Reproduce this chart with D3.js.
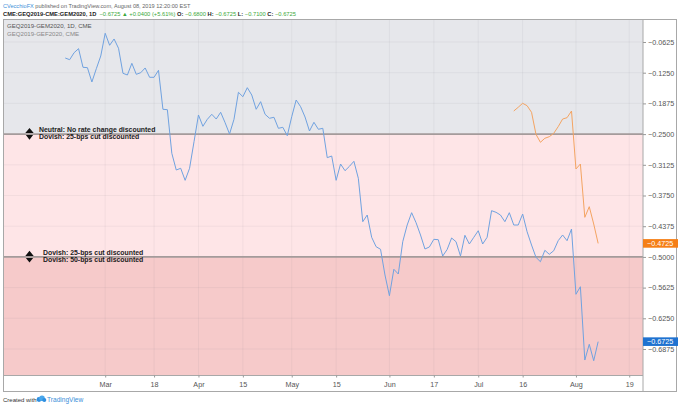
<!DOCTYPE html>
<html><head><meta charset="utf-8">
<script src="https://cdn.jsdelivr.net/npm/d3@7"></script>
<style>
body{margin:0;background:#fff;}
svg{display:block;font-family:"Liberation Sans",Arial,sans-serif;}
</style>
</head><body>
<svg id="c" width="680" height="407"></svg>
<script>
// ---------- DATA ----------
const holidays = ["2019-02-18","2019-04-19","2019-05-27","2019-07-04"];
const spreadStart = "2019-02-15";           // GEQ2019-GEM2020, daily
const spreadValues = [
-0.0951,-0.0985,-0.0843,-0.0761,-0.1140,-0.1148,-0.1439,-0.1169,-0.0910,
-0.0448,-0.0692,-0.0564,-0.0753,-0.1262,-0.1297,-0.1059,-0.1283,-0.1250,-0.1154,-0.1344,
-0.1344,-0.1201,-0.1995,-0.2003,-0.2891,-0.3231,-0.3196,-0.3441,-0.3196,-0.2655,
-0.2111,-0.2341,-0.2199,-0.2097,-0.2193,-0.2056,-0.2268,-0.2498,-0.2199,-0.1649,
-0.1739,-0.1555,-0.1704,-0.1995,-0.1840,-0.2097,-0.2178,-0.2158,-0.2382,-0.2362,
-0.2533,-0.2146,-0.1806,-0.1942,-0.2152,-0.2437,-0.2260,-0.2402,-0.2382,-0.2980,
-0.2946,-0.3441,-0.3109,-0.3245,-0.3156,-0.3054,-0.3400,-0.4283,-0.4147,-0.4601,
-0.4792,-0.4845,-0.5368,-0.5790,-0.5252,-0.5348,-0.4691,-0.4351,-0.4100,-0.4304,
-0.4554,-0.4839,-0.4798,-0.4642,-0.4650,-0.4982,-0.4849,-0.4615,-0.4691,-0.4982,
-0.4560,-0.4737,-0.4601,-0.4467,-0.4737,-0.4601,-0.4059,-0.4092,-0.4147,-0.4283,
-0.4100,-0.4351,-0.4351,-0.4127,-0.4487,-0.4758,-0.5008,-0.5098,-0.4866,-0.4947,
-0.4874,-0.4670,-0.4554,-0.4670,-0.4432,-0.5761,-0.5607,-0.7099,-0.6779,-0.7113,
-0.6725
];
const compareStart = "2019-07-12";          // GEQ2019-GEF2020
const compareValues = [
-0.2030,-0.1954,-0.1873,-0.1922,-0.2056,-0.2504,-0.2667,-0.2585,-0.2553,-0.2484,
-0.2349,-0.2193,-0.2166,-0.2030,-0.3210,-0.3109,-0.4194,-0.3978,-0.4330,-0.4725
];
const yTicks = [-0.0625,-0.125,-0.1875,-0.25,-0.3125,-0.375,-0.4375,-0.5,-0.5625,-0.625,-0.6875];
const xTickDates = ["2019-03-01","2019-03-18","2019-04-01","2019-04-15","2019-05-01","2019-05-15",
                    "2019-06-03","2019-06-17","2019-07-01","2019-07-16","2019-08-01","2019-08-19"];
const xTickLabels = ["Mar","18","Apr","15","May","15","Jun","17","Jul","16","Aug","19"];
const zoneBounds = [-0.25, -0.5];
const zoneNotes = [
  {level:-0.25, above:"Neutral: No rate change discounted", below:"Dovish: 25-bps cut discounted"},
  {level:-0.5,  above:"Dovish: 25-bps cut discounted",      below:"Dovish: 50-bps cut discounted"}
];

// ---------- CALENDAR (trading days) ----------
function tradingDays(start, end){
  const out=[]; const d=new Date(start+"T00:00:00Z"); const e=new Date(end+"T00:00:00Z");
  while(d<=e){ const wd=d.getUTCDay(); const s=d.toISOString().slice(0,10);
    if(wd!==0&&wd!==6&&!holidays.includes(s)) out.push(s); d.setUTCDate(d.getUTCDate()+1);}
  return out;
}
const cal = tradingDays("2019-01-02","2019-09-30");
const idx = s => cal.indexOf(s);
const spread = spreadValues.map((v,i)=>({i:idx(spreadStart)+i, v}));
const compare = compareValues.map((v,i)=>({i:idx(compareStart)+i, v}));

// ---------- LAYOUT ----------
const svg = d3.select("#c");
const L=3.5, R=643, T=19, B=375, FB=391.5, FR=676.5;
const x = d3.scaleLinear()
  .domain([spread[0].i-13.9, spread[spread.length-1].i+10.1]).range([L,R]);
const y = d3.scaleLinear().domain([-0.0157,-0.7404]).range([T,B]);

// zones
const edges=[y.domain()[0], ...zoneBounds, y.domain()[1]];
const zoneColors=["#e6e7eb","#fee5e7","#f6caca"];
svg.append("g").selectAll("rect").data(d3.range(3)).join("rect")
  .attr("x",L).attr("width",R-L)
  .attr("y",k=>y(edges[k])).attr("height",k=>y(edges[k+1])-y(edges[k]))
  .attr("fill",k=>zoneColors[k]);

// grid
const g = svg.append("g");
g.selectAll("line.h").data(yTicks).join("line")
  .attr("x1",L).attr("x2",R).attr("y1",d=>y(d)).attr("y2",d=>y(d))
  .attr("stroke","rgba(120,120,130,0.08)").attr("stroke-width",1);
g.selectAll("line.v").data(xTickDates).join("line")
  .attr("y1",T).attr("y2",B).attr("x1",d=>x(idx(d))).attr("x2",d=>x(idx(d)))
  .attr("stroke","rgba(120,120,130,0.08)").attr("stroke-width",1);

// zone boundaries
svg.append("g").selectAll("line").data(zoneBounds).join("line")
  .attr("x1",L).attr("x2",R).attr("y1",d=>y(d)).attr("y2",d=>y(d))
  .attr("stroke","#a49b9b").attr("stroke-width",1.6);

// series
const line = d3.line().x(d=>x(d.i)).y(d=>y(d.v));
svg.append("path").datum(spread).attr("d",line).attr("fill","none")
  .attr("stroke","#70a2e0").attr("stroke-width",1).attr("stroke-linejoin","round");
svg.append("path").datum(compare).attr("d",line).attr("fill","none")
  .attr("stroke","#f4a462").attr("stroke-width",1).attr("stroke-linejoin","round");

// zone notes
const notes = svg.append("g").selectAll("g").data(zoneNotes).join("g")
  .attr("transform",d=>`translate(29.5,${y(d.level)})`);
notes.append("path").attr("d","M-4.2,-1 L0,-6.2 L4.2,-1 Z M-3.6,1 L0,5.6 L3.6,1 Z").attr("fill","#111");
notes.append("text").attr("x",(d,k)=>k===0?9.5:13.5).attr("y",-2)
  .attr("font-size",6.9).attr("font-weight","bold").attr("fill","#1c1c1c").text(d=>d.above);
notes.append("text").attr("x",(d,k)=>k===0?9.5:13.5).attr("y",4.6)
  .attr("font-size",6.9).attr("font-weight","bold").attr("fill","#1c1c1c").text(d=>d.below);

// frame
svg.append("rect").attr("x",L).attr("y",T+0.5).attr("width",FR-L).attr("height",FB-T-0.5)
  .attr("fill","none").attr("stroke","#a8a8a8").attr("stroke-width",1);
svg.append("line").attr("x1",R).attr("x2",R).attr("y1",T).attr("y2",FB).attr("stroke","#a8a8a8");
svg.append("line").attr("x1",L).attr("x2",R).attr("y1",B+0.5).attr("y2",B+0.5).attr("stroke","#a8a8a8");

// y axis
const fmt = d3.format(".4f");
const ya = svg.append("g").attr("transform",`translate(${R},0)`)
  .call(d3.axisRight(y).tickValues(yTicks).tickFormat(fmt).tickSize(3).tickPadding(2));
ya.select(".domain").remove();
ya.selectAll("line").attr("stroke","#999");
ya.selectAll("text").attr("font-size",7.2).attr("fill","#555").attr("font-family","Liberation Sans, Arial, sans-serif");

// x axis
const xa = svg.append("g").attr("transform",`translate(0,${B+0.5})`)
  .call(d3.axisBottom(x).tickValues(xTickDates.map(idx)).tickFormat((d,k)=>xTickLabels[k]).tickSize(2).tickPadding(4));
xa.select(".domain").remove();
xa.selectAll("line").attr("stroke","#999");
xa.selectAll("text").attr("font-size",7.2).attr("fill","#555").attr("font-family","Liberation Sans, Arial, sans-serif");

// price tags
const tags = [{v:compareValues[compareValues.length-1], c:"#f57f17"},{v:spreadValues[spreadValues.length-1], c:"#1f72d0"}];
const tg = svg.append("g").selectAll("g").data(tags).join("g").attr("transform",d=>`translate(${R},${y(d.v)})`);
tg.append("rect").attr("x",0).attr("y",-4.3).attr("width",35).attr("height",8.6).attr("fill",d=>d.c);
tg.append("text").attr("x",4).attr("y",2.6).attr("font-size",7.2).attr("fill","#fff").text(d=>fmt(d.v));

// header
const h1 = svg.append("text").attr("x",3).attr("y",8).attr("font-size",5.6);
h1.append("tspan").attr("fill","#3b8fd9").text("CVecchioFX");
h1.append("tspan").attr("fill","#666").text(" published on TradingView.com, August 08, 2019 12:20:00 EST");
const green="#3aa83a", dark="#222";
const h2 = svg.append("text").attr("x",3).attr("y",16).attr("font-size",5.75).attr("xml:space","preserve");
const parts=[["CME:GEQ2019-CME:GEM2020, 1D",dark,1],["  −0.6725 ",green,0],["▲",green,0],[" +0.0400 (+5.61%) ",green,0],
  ["O:",dark,1],[" −0.6800 ",green,0],["H:",dark,1],[" −0.6725 ",green,0],["L:",dark,1],[" −0.7100 ",green,0],["C:",dark,1],[" −0.6725",green,0]];
parts.forEach(p=>h2.append("tspan").attr("fill",p[1]).attr("font-weight",p[2]?"bold":"normal").text(p[0]));

// legend
svg.append("text").attr("x",7).attr("y",28.3).attr("font-size",6.1).attr("fill","#555").text("GEQ2019-GEM2020, 1D, CME");
svg.append("text").attr("x",7).attr("y",36).attr("font-size",6.1).attr("fill","#888").text("GEQ2019-GEF2020, CME");

// footer
const f = svg.append("g");
f.append("text").attr("x",3).attr("y",402).attr("font-size",6).attr("fill","#333").text("Created with");
const logo = f.append("g").attr("transform","translate(40.5,399)");
logo.append("circle").attr("cx",-1.5).attr("cy",0.5).attr("r",2.4).attr("fill","#2f8fe0");
logo.append("circle").attr("cx",1.5).attr("cy",-0.8).attr("r",2.8).attr("fill","#49a7ec");
logo.append("circle").attr("cx",3.8).attr("cy",1).attr("r",2).attr("fill","#2f8fe0");
f.append("text").attr("x",47).attr("y",402).attr("font-size",6.6).attr("fill","#3b8fd9").text("TradingView");
</script>
</body></html>
